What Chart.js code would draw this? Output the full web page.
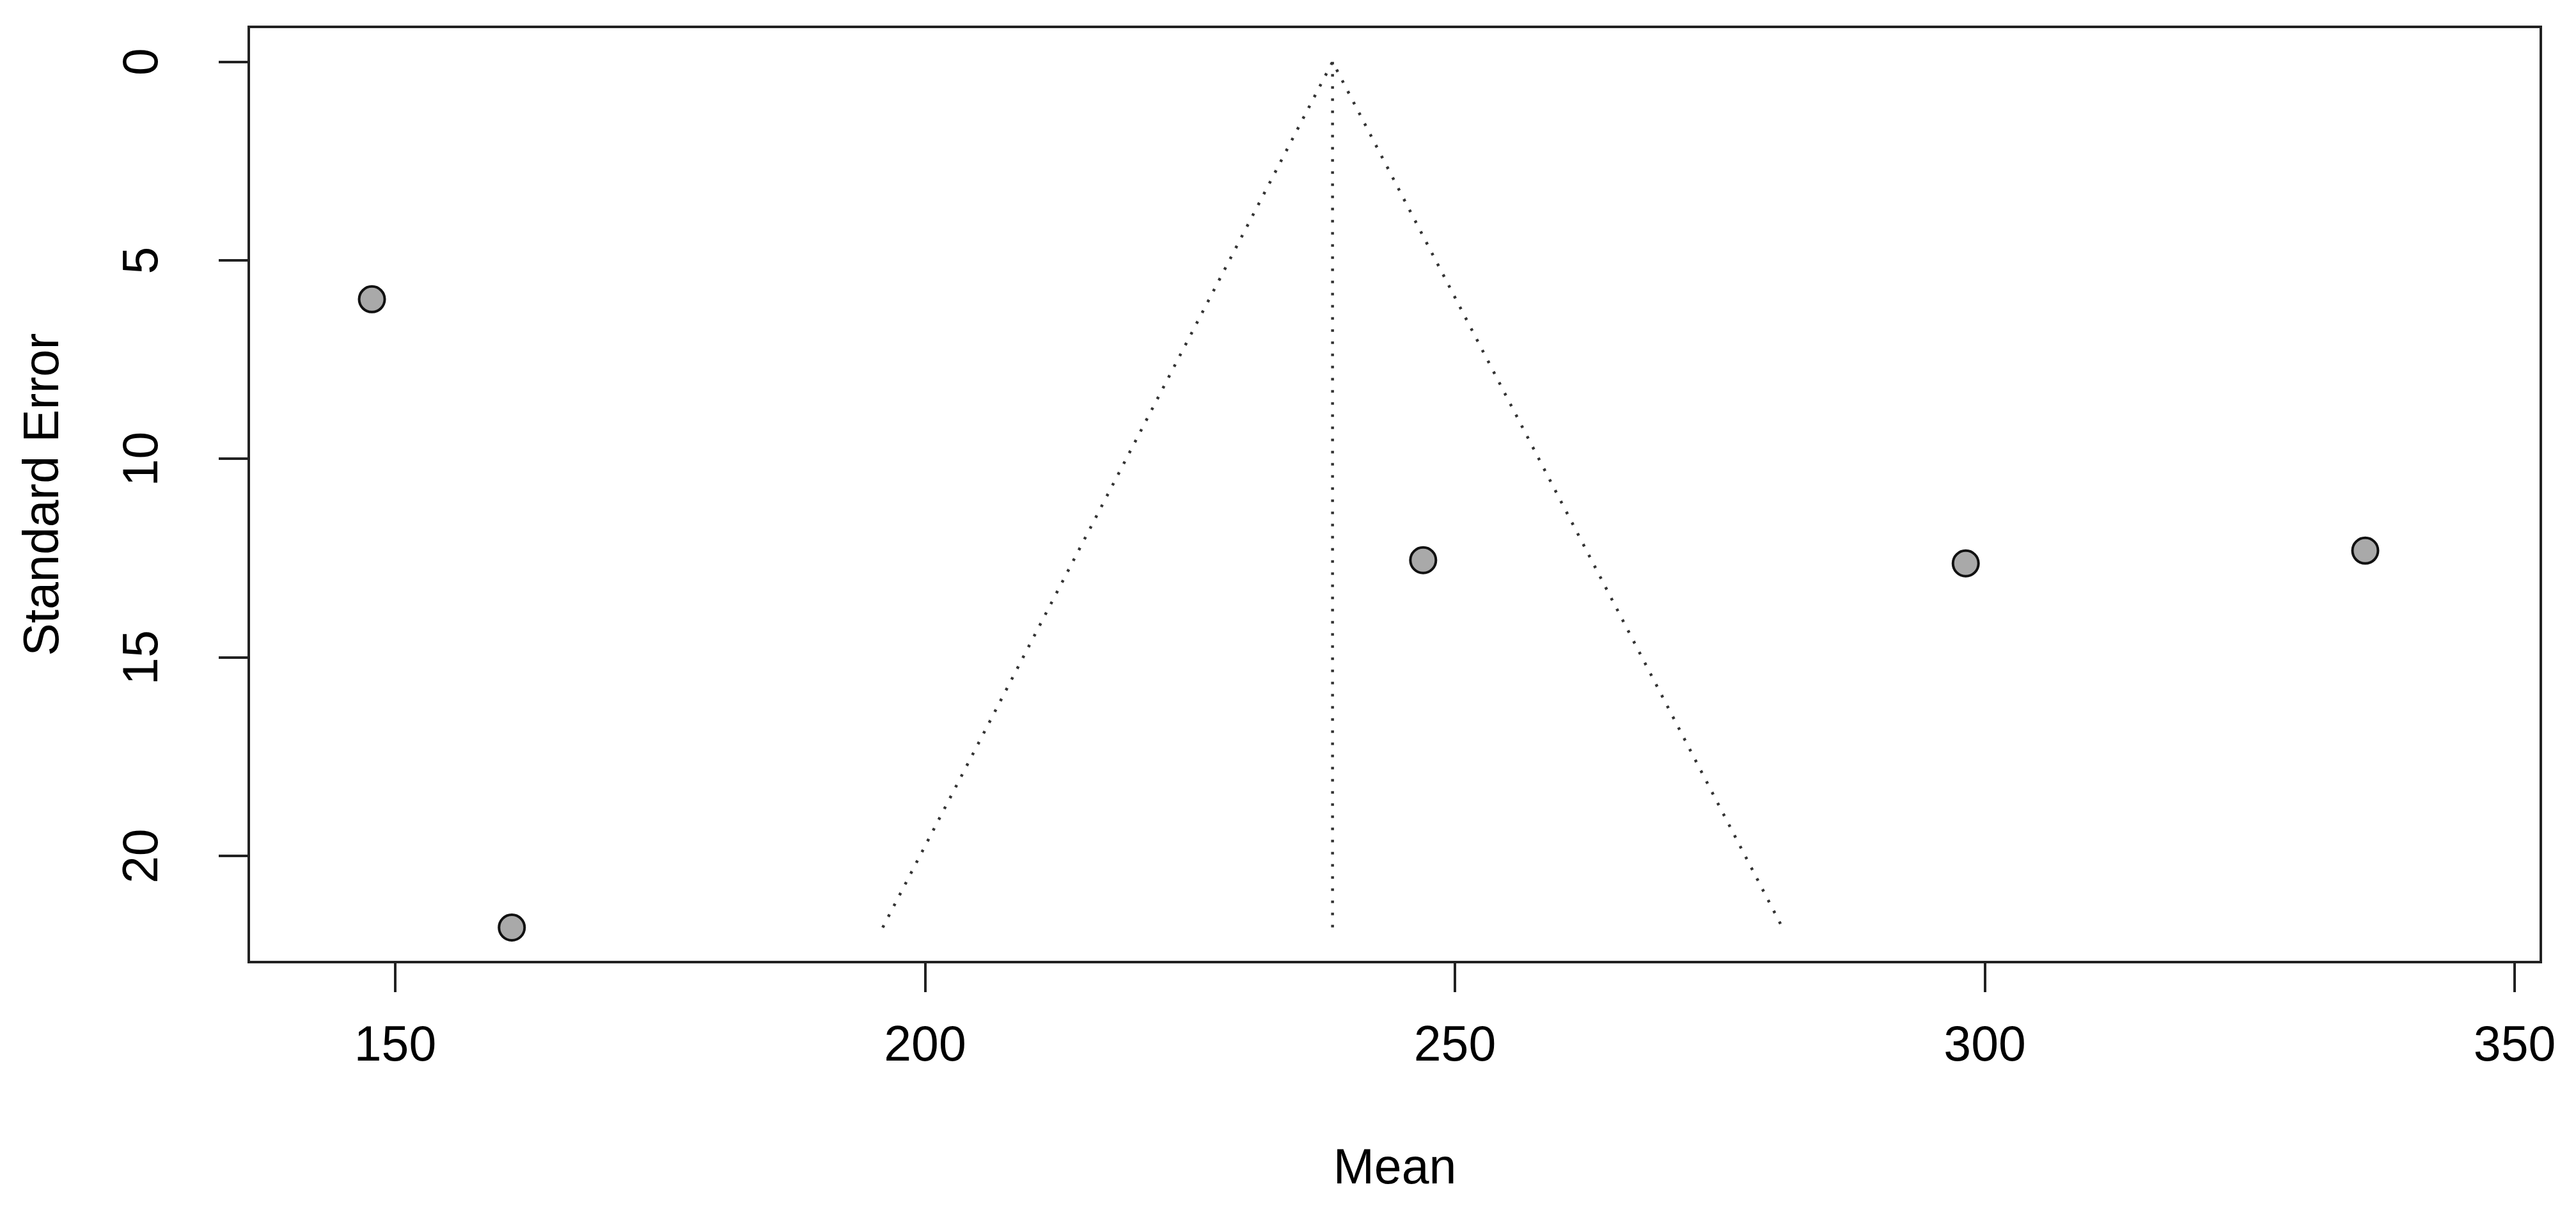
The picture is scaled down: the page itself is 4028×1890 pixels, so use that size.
<!DOCTYPE html>
<html>
<head>
<meta charset="utf-8">
<script src="https://cdn.jsdelivr.net/npm/chart.js@4.4.1/dist/chart.umd.min.js"></script>
<style>
  html, body { margin: 0; padding: 0; background: #fff; }
  canvas { display: block; }
</style>
</head>
<body>
<canvas id="funnel" width="4028" height="1890"></canvas>
<script>
// study estimates
const means = [147.8, 161.0, 247.0, 298.2, 335.9]
const stdErrors = [5.98, 21.8, 12.55, 12.63, 12.31]

// funnel: left foot, apex, right foot
const funnelX = [196.0, 238.45, 280.9]
const funnelY = [21.8, 0, 21.8]
// centre line
const centreX = [238.45, 238.45]
const centreY = [0, 21.8]

const xTicks = [150, 200, 250, 300, 350]
const yTicks = [0, 5, 10, 15, 20]

const ink = '#222'

const toPoints = (xs, ys) => xs.map((x, i) => ({ x: x, y: ys[i] }))

// R-style box around the plot region
const boxPlugin = {
  id: 'box',
  afterDraw(chart) {
    const { ctx, chartArea: a } = chart
    ctx.save()
    ctx.strokeStyle = ink
    ctx.lineWidth = 4
    ctx.strokeRect(a.left, a.top, a.right - a.left, a.bottom - a.top)
    ctx.restore()
  }
}

const dotted = {
  showLine: true,
  pointRadius: 0,
  borderColor: '#333',
  borderWidth: 4.5,
  borderDash: [4, 15],
  fill: false
}

new Chart(document.getElementById('funnel'), {
  type: 'scatter',
  data: {
    datasets: [
      Object.assign({ label: 'funnel', data: toPoints(funnelX, funnelY) }, dotted),
      Object.assign({ label: 'centre', data: toPoints(centreX, centreY) }, dotted),
      {
        label: 'studies',
        data: toPoints(means, stdErrors),
        pointRadius: 20,
        pointBackgroundColor: '#a9a9a9',
        pointBorderColor: '#111',
        pointBorderWidth: 4
      }
    ]
  },
  options: {
    responsive: false,
    devicePixelRatio: 1,
    animation: false,
    layout: { padding: { left: 0, top: 42, right: 55, bottom: 0 } },
    plugins: {
      legend: { display: false },
      tooltip: { enabled: false }
    },
    scales: {
      x: {
        type: 'linear',
        min: 136.18,
        max: 352.47,
        afterBuildTicks: (scale) => { scale.ticks = xTicks.map(v => ({ value: v })) },
        afterFit: (scale) => {
          scale.height = 1890 - 1504
          scale.paddingLeft = 0
          scale.paddingRight = 0
        },
        grid: { drawOnChartArea: false, drawTicks: true, tickLength: 47, lineWidth: 4, color: ink },
        border: { display: true, width: 4, color: ink },
        ticks: {
          font: { family: 'Liberation Sans', size: 77 },
          color: '#000',
          padding: 40,
          maxRotation: 0
        },
        title: {
          display: true,
          text: 'Mean',
          font: { family: 'Liberation Sans', size: 77 },
          color: '#000',
          padding: { top: 0, bottom: 15 }
        }
      },
      y: {
        type: 'linear',
        reverse: true,
        min: -0.88,
        max: 22.67,
        afterBuildTicks: (scale) => { scale.ticks = yTicks.map(v => ({ value: v })) },
        afterFit: (scale) => {
          scale.width = 389
          scale.paddingTop = 0
          scale.paddingBottom = 0
        },
        grid: { drawOnChartArea: false, drawTicks: true, tickLength: 47, lineWidth: 4, color: ink },
        border: { display: true, width: 4, color: ink },
        ticks: {
          font: { family: 'Liberation Sans', size: 77 },
          color: '#000',
          padding: 74,
          minRotation: 90,
          maxRotation: 90,
          crossAlign: 'center'
        },
        title: {
          display: true,
          text: 'Standard Error',
          font: { family: 'Liberation Sans', size: 77 },
          color: '#000',
          padding: { top: 24, bottom: 0 }
        }
      }
    }
  },
  plugins: [boxPlugin]
})
</script>
</body>
</html>
